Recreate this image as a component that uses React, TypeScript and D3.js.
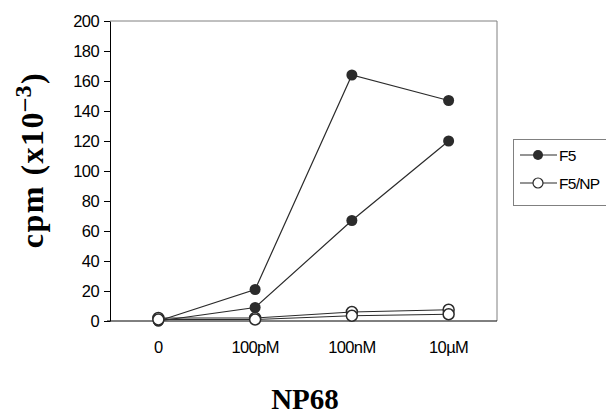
import * as d3 from "d3";
import { useRef, useEffect } from "react";

const categories = ["0", "100pM", "100nM", "10µM"];
const f5High = [0, 21, 164, 147];
const f5Low = [0, 9, 67, 120];
const f5npHigh = [2, 2, 6, 7.5];
const f5npLow = [1, 1, 3.5, 4.5];
const yTicks = [0, 20, 40, 60, 80, 100, 120, 140, 160, 180, 200];
const legendLabels = ["F5", "F5/NP"];

export default function App() {
    const width = 606;
    const height = 416;
    const marginLeft = 110;
    const marginRight = 109;
    const marginTop = 21;
    const marginBottom = 95;

    const gy = useRef<SVGGElement>(null);
    const ink = "#2b2b2b";
    const sans = "Arial, 'Liberation Sans', sans-serif";
    const serif = "'Times New Roman', 'Liberation Serif', serif";

    const x = d3.scalePoint<string>()
        .domain(categories)
        .range([marginLeft, width - marginRight])
        .padding(0.5);

    const y = d3.scaleLinear()
        .domain([0, 200])
        .range([height - marginBottom, marginTop]);

    const line = d3.line<number>()
        .x((d, i) => x(categories[i])!)
        .y(d => y(d));

    useEffect(() => {
        const g = d3.select(gy.current!);
        g.call(d3.axisLeft(y).tickValues(yTicks).tickSize(6).tickSizeOuter(0).tickPadding(5) as any);
        g.select(".domain").attr("stroke", "#000");
        g.selectAll(".tick line").attr("stroke", "#000");
        g.selectAll(".tick text")
            .attr("font-family", sans)
            .attr("font-size", 16.5)
            .attr("letter-spacing", -0.6)
            .attr("fill", "#000");
    }, []);

    const filled = [f5High, f5Low];
    const open = [f5npHigh, f5npLow];

    return (
        <svg width={width} height={height} style={{ position: "absolute", left: 0, top: 0, background: "#fff" }}>
            {/* plot frame */}
            <line x1={marginLeft} x2={width - marginRight} y1={marginTop} y2={marginTop} stroke="#808080" />
            <line x1={width - marginRight} x2={width - marginRight} y1={marginTop} y2={height - marginBottom} stroke="#808080" />
            <line x1={marginLeft - 3} x2={width - marginRight} y1={y(0)} y2={y(0)} stroke="#000" />
            <g ref={gy} transform={`translate(${marginLeft},0)`} />

            {categories.map(c => (
                <text key={c} x={x(c)} y={353} textAnchor="middle"
                    fontFamily={sans} fontSize={16.5} letterSpacing={-0.6}>{c}</text>
            ))}

            {filled.map((s, k) => (
                <g key={"f" + k}>
                    <path d={line(s)!} fill="none" stroke={ink} strokeWidth={1.2} />
                    {s.map((v, i) => (
                        <circle key={i} cx={x(categories[i])} cy={y(v)} r={5.5} fill={ink} />
                    ))}
                </g>
            ))}
            {open.map((s, k) => (
                <g key={"o" + k}>
                    <path d={line(s)!} fill="none" stroke={ink} strokeWidth={1.2} />
                    {s.map((v, i) => (
                        <circle key={i} cx={x(categories[i])} cy={y(v)} r={5.5} fill="#fff" stroke={ink} strokeWidth={1.5} />
                    ))}
                </g>
            ))}

            {/* axis titles */}
            <text transform="translate(43,160) rotate(-90)" textAnchor="middle"
                fontFamily={serif} fontWeight="bold" fontSize={32} letterSpacing={1.5}>
                cpm (x10<tspan dy={-12} fontSize={24}>–3</tspan><tspan dy={12}>)</tspan>
            </text>
            <text x={305} y={409} textAnchor="middle"
                fontFamily={serif} fontWeight="bold" fontSize={29}>NP68</text>

            {/* legend */}
            <rect x={513.5} y={139.5} width={120} height={66} fill="#fff" stroke="#808080" />
            {legendLabels.map((l, i) => (
                <g key={l} transform={`translate(0,${155 + i * 28})`}>
                    <line x1={520} x2={557} y1={0} y2={0} stroke={ink} strokeWidth={1.2} />
                    <circle cx={538} cy={0} r={5} fill={i === 0 ? ink : "#fff"} stroke={ink} strokeWidth={i === 0 ? 0 : 1.2} />
                    <text x={559} y={5.5} fontFamily={sans} fontSize={15.5} letterSpacing={-0.7}>{l}</text>
                </g>
            ))}
        </svg>
    );
}
